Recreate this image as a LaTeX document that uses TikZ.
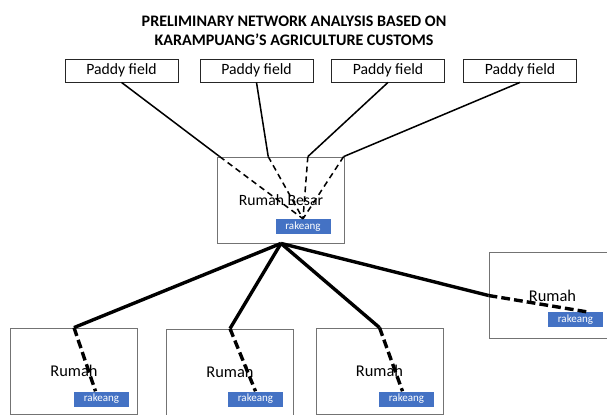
\documentclass[tikz,border=0pt]{standalone}
\usepackage{fontspec}
\setmainfont{Carlito}
\usepackage{tikz}
\usetikzlibrary{positioning,calc}
\definecolor{tagblue}{RGB}{68,114,196}

\begin{document}
\begin{tikzpicture}[
    x=0.03cm, y=-0.03cm,
    font=\fontsize{13.4pt}{16pt}\selectfont,
    field/.style={draw=black!85, line width=0.7pt, inner sep=0pt, minimum width=3.39cm, minimum height=0.69cm},
    house/.style={draw=black!55, line width=0.7pt, inner sep=0pt, minimum width=3.81cm, minimum height=2.58cm},
    tag/.style={fill=tagblue, text=white, inner sep=0pt, minimum width=1.65cm, minimum height=0.45cm, font=\fontsize{9.4pt}{10pt}\selectfont},
    thinlink/.style={line width=1.3pt},
    thindash/.style={line width=1.3pt, dash pattern=on 5pt off 3.5pt},
    thicklink/.style={line width=2.9pt},
    thickdash/.style={line width=2.9pt, dash pattern=on 7.5pt off 3.5pt}
]
    \useasboundingbox (0,0) rectangle (607,415);
    \clip (0,0) rectangle (607,415);

    \node[align=center, font=\fontsize{13.7pt}{16.2pt}\selectfont\bfseries] (title) at (294,30.5) {PRELIMINARY NETWORK ANALYSIS BASED ON\\KARAMPUANG'S AGRICULTURE CUSTOMS};

    \node[field] (p1) at (121.5,70.5) {Paddy field};
    \node[field] (p2) at (256.5,70.5) {Paddy field};
    \node[field] (p3) at (388,70.5) {Paddy field};
    \node[field] (p4) at (520,70.5) {Paddy field};

    \node[house] (besar) at (281,200) {Rumah Besar};
    \node[house, font=\fontsize{14pt}{16pt}\selectfont] (r1) at (74,371) {Rumah};
    \node[house, font=\fontsize{14pt}{16pt}\selectfont] (r2) at (230,372) {Rumah};
    \node[house, font=\fontsize{14pt}{16pt}\selectfont] (r3) at (379.5,371) {Rumah};
    \node[house, font=\fontsize{14pt}{16pt}\selectfont] (r4) at (552.5,295.5) {Rumah};

    \node[tag] (rk0) at (303,226.5) {rakeang};
    \node[tag] (rk1) at (101.5,399) {rakeang};
    \node[tag] (rk2) at (255.5,399) {rakeang};
    \node[tag] (rk3) at (406.5,399) {rakeang};
    \node[tag] (rk4) at (575.5,319.5) {rakeang};

    \coordinate (in1) at ($(besar.north west)!0.02!(besar.north east)$);
    \coordinate (in2) at ($(besar.north west)!0.40!(besar.north east)$);
    \coordinate (in3) at ($(besar.north west)!0.71!(besar.north east)$);
    \coordinate (in4) at ($(besar.north west)!0.99!(besar.north east)$);

    \draw[thinlink] (p1.south) -- (in1);
    \draw[thinlink] (p2.south) -- (in2);
    \draw[thinlink] (p3.south) -- (in3);
    \draw[thinlink] (p4.south) -- (in4);
    \draw[thindash] (in1) -- (rk0.north);
    \draw[thindash] (in2) -- (rk0.north);
    \draw[thindash] (in3) -- (rk0.north);
    \draw[thindash] (in4) -- (rk0.north);

    \draw[thicklink] (besar.south) -- (r1.north);
    \draw[thicklink] (besar.south) -- (r2.north);
    \draw[thicklink] (besar.south) -- (r3.north);
    \draw[thicklink] (besar.south) -- (r4.west);
    \draw[thickdash] (r1.north) -- ($(rk1.north)+(-6,0)$);
    \draw[thickdash] (r2.north) -- (rk2.north);
    \draw[thickdash] (r3.north) -- ($(rk3.north)+(-4,0)$);
    \draw[thickdash] (r4.west) -- ($(rk4.north)+(11,0)$);
\end{tikzpicture}
\end{document}
